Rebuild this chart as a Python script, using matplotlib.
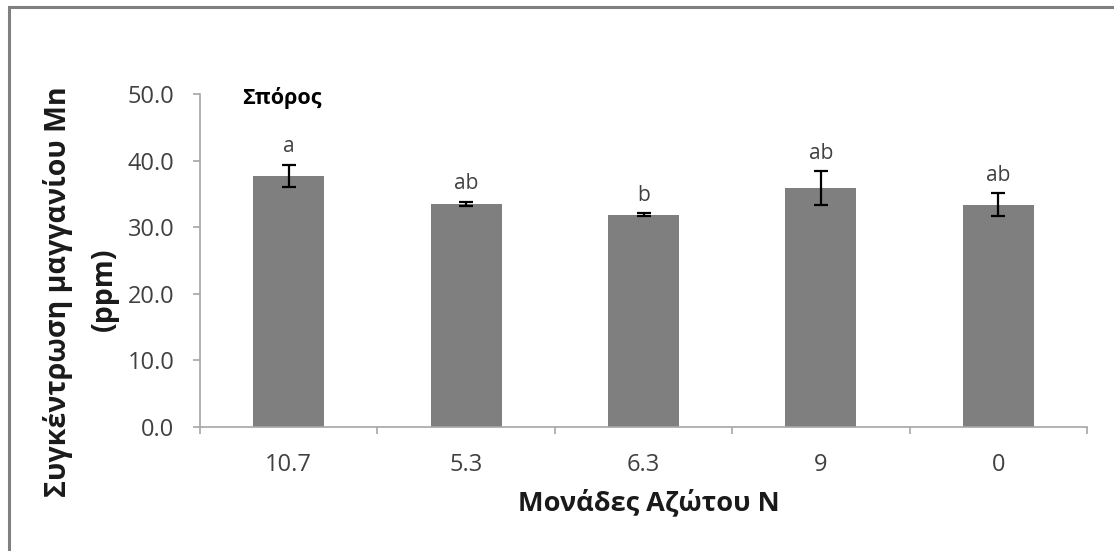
import matplotlib.pyplot as plt
from matplotlib.patches import Rectangle

plt.rcParams['font.family'] = ['Open Sans', 'DejaVu Sans']

nitrogen = ['10.7', '5.3', '6.3', '9', '0']
manganese = [37.7, 33.5, 31.9, 35.9, 33.4]
errors = [1.7, 0.3, 0.2, 2.5, 1.7]
letters = ['a', 'ab', 'b', 'ab', 'ab']

W, H = 1114, 551
fig = plt.figure(figsize=(W / 100, H / 100), dpi=100)
ax = fig.add_axes([200 / W, 1 - 427 / H, 887 / W, 333 / H])

x = list(range(len(nitrogen)))
ax.bar(x, manganese, width=0.4, color='#7f7f7f', zorder=2)
ax.errorbar(x, manganese, yerr=errors, fmt='none', ecolor='black',
            elinewidth=1.6, capsize=4.7, capthick=1.6, zorder=3)

# significance letters sit just above each error bar
for xi, val, err, lab in zip(x, manganese, errors, letters):
    ax.text(xi, val + err + 1.9, lab, ha='center', va='baseline',
            fontsize=15, color='#404040')

ax.text(42 / 887, 0.988, 'Σπόρος', transform=ax.transAxes, ha='left', va='center',
        fontsize=15.5, fontweight='bold', color='black')

ax.set_xlim(-0.5, len(nitrogen) - 0.5)
ax.set_ylim(0, 50)
ax.set_yticks([0, 10, 20, 30, 40, 50])
ax.set_yticklabels([f'{v:.1f}' for v in [0, 10, 20, 30, 40, 50]])
ax.set_xticks(x)
ax.set_xticklabels(nitrogen)
ax.set_xticks([i - 0.5 for i in range(len(nitrogen) + 1)], minor=True)

ax.tick_params(axis='x', which='major', length=0, pad=19, labelsize=17, labelcolor='#404040')
ax.tick_params(axis='x', which='minor', length=5, color='#a6a6a6', width=1.2)
ax.tick_params(axis='y', length=5, color='#a6a6a6', width=1.2, pad=13.5,
               labelsize=17, labelcolor='#404040')

for side in ['top', 'right']:
    ax.spines[side].set_visible(False)
for side in ['left', 'bottom']:
    ax.spines[side].set_color('#a6a6a6')
    ax.spines[side].set_linewidth(1.2)

# axis titles
fig.text(58 / W, 1 - 292 / H, 'Συγκέντρωση μαγγανίου Mn', rotation=90,
         ha='center', va='center', fontsize=20.5, fontweight='bold', color='#1a1a1a')
fig.text(104 / W, 1 - 289 / H, '(ppm)', rotation=90,
         ha='center', va='center', fontsize=20.5, fontweight='bold', color='#1a1a1a')
fig.text(649 / W, 1 - 502 / H, 'Μονάδες Αζώτου N', ha='center', va='center',
         fontsize=19.5, fontweight='bold', color='#1a1a1a')

# frame around the chart area
fig.patches.append(Rectangle((9 / W, -0.1), 1.2, 1 - 7 / H + 0.1,
                             transform=fig.transFigure, fill=False,
                             edgecolor='#808080', linewidth=2.2))

fig.savefig('out.png', dpi=100)
